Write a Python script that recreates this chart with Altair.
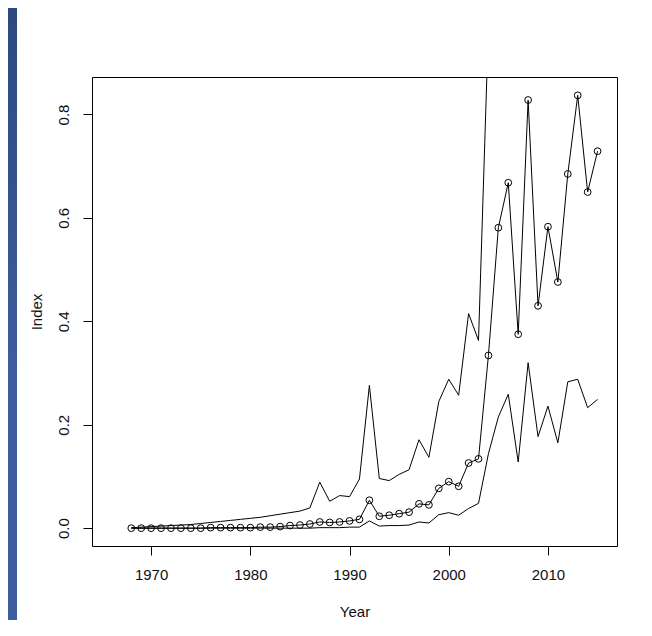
import altair as alt
import pandas as pd

years = list(range(1968, 2016))

middle = [0.000, 0.000, 0.000, 0.000, 0.000, 0.000, 0.000, 0.000, 0.001, 0.001,
          0.001, 0.001, 0.001, 0.002, 0.002, 0.003, 0.005, 0.006, 0.008, 0.012,
          0.011, 0.012, 0.014, 0.017, 0.054, 0.023, 0.025, 0.028, 0.031, 0.047,
          0.045, 0.077, 0.090, 0.081, 0.126, 0.134, 0.334, 0.581, 0.668, 0.375,
          0.828, 0.430, 0.583, 0.476, 0.685, 0.837, 0.650, 0.729]

lower = [0.000, 0.000, 0.000, 0.000, 0.000, 0.000, 0.000, 0.000, 0.000, 0.000,
         0.000, 0.000, 0.000, 0.000, 0.000, 0.000, 0.000, 0.000, 0.000, 0.001,
         0.001, 0.001, 0.002, 0.002, 0.014, 0.004, 0.005, 0.005, 0.006, 0.012,
         0.010, 0.026, 0.030, 0.025, 0.038, 0.048, 0.144, 0.215, 0.259, 0.128,
         0.320, 0.177, 0.236, 0.165, 0.283, 0.288, 0.233, 0.249]

upper = [0.001, 0.002, 0.003, 0.004, 0.005, 0.006, 0.007, 0.009, 0.011, 0.013,
         0.015, 0.017, 0.019, 0.021, 0.024, 0.027, 0.030, 0.033, 0.039, 0.089,
         0.052, 0.063, 0.061, 0.095, 0.276, 0.096, 0.092, 0.104, 0.113, 0.171,
         0.137, 0.245, 0.288, 0.257, 0.415, 0.363, 0.970, 1.600, 1.800, 1.100,
         2.200, 1.200, 1.600, 1.300, 1.800, 2.200, 1.700, 1.900]

x_ticks = [1970, 1980, 1990, 2000, 2010]
y_ticks = [0.0, 0.2, 0.4, 0.6, 0.8]

df = pd.DataFrame({"Year": years, "lower": lower, "middle": middle, "upper": upper})

FONT = "Liberation Sans"
W, H = 525, 469

xscale = alt.Scale(domain=[1964.04, 2016.96], nice=False, zero=False)
yscale = alt.Scale(domain=[-0.0345, 0.8725], nice=False, zero=False)

xaxis = alt.Axis(
    values=x_ticks, format="d", title="Year", grid=False, domain=False,
    tickSize=9, tickColor="black", tickWidth=1,
    labelFont=FONT, labelFontSize=15, labelColor="#111", labelAngle=0,
    labelPadding=24, labelBaseline="alphabetic", labelFlush=False, labelOverlap=False,
    titleFont=FONT, titleFontSize=15, titleFontWeight="normal", titleColor="#111",
    titleX=W / 2, titleY=70, titleAlign="center", titleBaseline="alphabetic",
)
yaxis = alt.Axis(
    values=y_ticks, format=".1f", title="Index", grid=False, domain=False,
    tickSize=9, tickColor="black", tickWidth=1,
    labelFont=FONT, labelFontSize=15, labelColor="#111", labelAngle=270,
    labelAlign="center", labelBaseline="alphabetic", labelPadding=15,
    labelFlush=False, labelOverlap=False,
    titleFont=FONT, titleFontSize=15, titleFontWeight="normal", titleColor="#111",
    titleAngle=270, titleX=-51, titleY=H / 2, titleAlign="center",
    titleBaseline="alphabetic",
)

base = alt.Chart(df)
X = alt.X("Year:Q", scale=xscale, axis=xaxis)

upper_line = base.mark_line(clip=True, color="black", strokeWidth=1).encode(
    x=X, y=alt.Y("upper:Q", scale=yscale, axis=yaxis)
)
lower_line = base.mark_line(clip=True, color="black", strokeWidth=1).encode(
    x=X, y=alt.Y("lower:Q", scale=yscale, axis=yaxis)
)
mid_line = base.mark_line(clip=True, color="black", strokeWidth=1).encode(
    x=X, y=alt.Y("middle:Q", scale=yscale, axis=yaxis)
)
mid_pts = base.mark_point(clip=True, shape="circle", filled=False, color="black",
                          size=46, strokeWidth=1, opacity=1).encode(
    x=X, y=alt.Y("middle:Q", scale=yscale, axis=yaxis)
)

strip = alt.Chart(pd.DataFrame({"k": [0]})).mark_rect(
    color=alt.LinearGradient(
        gradient="linear",
        stops=[alt.GradientStop(color="#2c4a80", offset=0),
               alt.GradientStop(color="#3d5d9e", offset=0.6),
               alt.GradientStop(color="#3d5d9e", offset=1)],
        x1=0, x2=0, y1=0, y2=1,
    )
).encode(x=alt.value(-84), x2=alt.value(-75), y=alt.value(-69), y2=alt.value(543))

chart = alt.layer(strip, upper_line, lower_line, mid_line, mid_pts).properties(
    width=W, height=H,
    autosize=alt.AutoSizeParams(type="none"),
    padding={"left": 84, "top": 69, "right": 21, "bottom": 74},
    background="white",
).configure_view(stroke="black", strokeWidth=1)

chart.save("out.html", embed_options={"renderer": "svg", "actions": False})
